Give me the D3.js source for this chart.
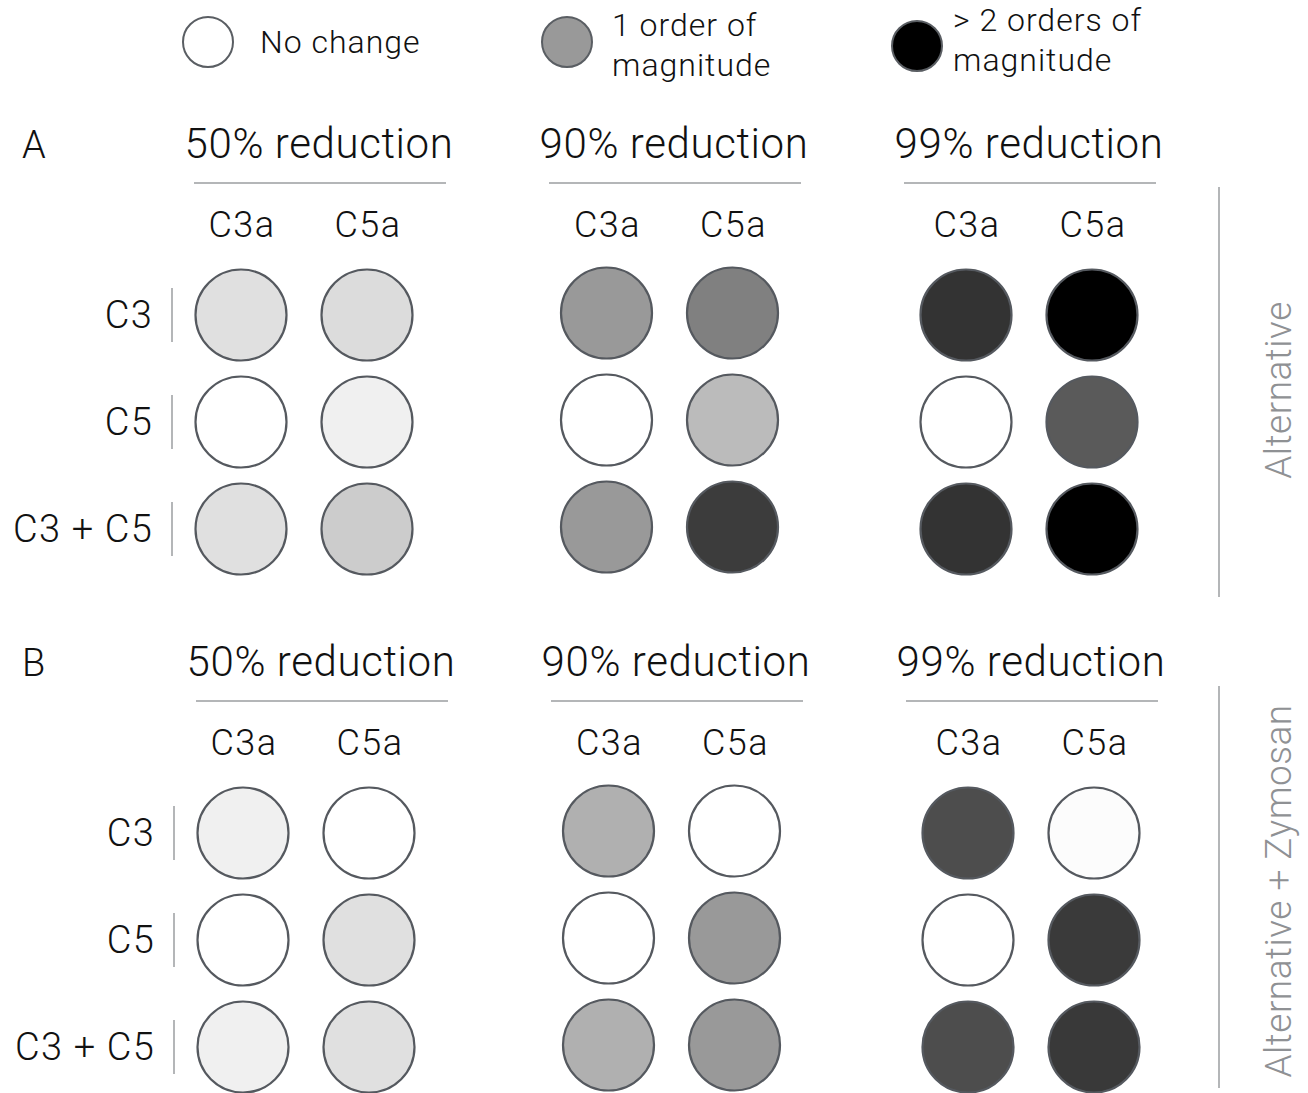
<!DOCTYPE html>
<html>
<head>
<meta charset="utf-8">
<script src="https://cdn.jsdelivr.net/npm/d3@7"></script>
<style>
  html, body { margin: 0; padding: 0; background: #fff; }
  svg { display: block; }
  text { font-family: Roboto, "Helvetica Neue", "Liberation Sans", sans-serif; font-weight: 300; fill: #111; }
</style>
</head>
<body>
<svg id="chart" width="1308" height="1093"></svg>
<script>
// ---------------- data ----------------
const panels = ["A", "B"];
const pathways = ["Alternative", "Alternative + Zymosan"];
const reductions = ["50% reduction", "90% reduction", "99% reduction"];
const mediators = ["C3a", "C5a"];
const targets = ["C3", "C5", "C3 + C5"];

// grey level of each dot (255 = no change / white, 0 = > 2 orders of magnitude / black)
// indexed [reduction][target][mediator]
const greyA = [
  [[224, 220], [255, 240], [224, 204]],
  [[153, 128], [255, 187], [153, 60]],
  [[51, 0], [255, 90], [51, 0]]
];
const greyB = [
  [[240, 255], [255, 224], [240, 224]],
  [[176, 255], [255, 153], [176, 153]],
  [[77, 252], [255, 58], [77, 57]]
];
const panelGrey = [greyA, greyB];

const legendLabels = [["No change"], ["1 order of", "magnitude"], ["> 2 orders of", "magnitude"]];
const legendGrey = [255, 153, 0];

// ---------------- scales ----------------
const svg = d3.select("#chart");
const colour = d3.scaleLinear().domain([0, 255]).range(["#000000", "#ffffff"]);
const panelY = d3.scalePoint().domain(panels).range([0, 518]);
const rowY = d3.scalePoint().domain(targets).range([315, 529]);
const groupX = d3.scalePoint().domain(reductions).range([241, 966]);
const subX = d3.scalePoint().domain(mediators).range([0, 126]);
const titleX = d3.scalePoint().domain(reductions).range([319, 1029]);
const legendX = d3.scalePoint().domain(d3.range(legendGrey.length)).range([208, 917]);
const R = 45.5;

// ---------------- legend ----------------
const leg = svg.append("g");
legendGrey.forEach((g, i) => {
  const cx = i === 1 ? 567 : legendX(i);
  const cy = i === 2 ? 46 : 42;
  leg.append("circle").attr("cx", cx).attr("cy", cy).attr("r", 25)
    .attr("fill", colour(g)).attr("stroke", "#5a5e63").attr("stroke-width", 2);
  const lines = legendLabels[i];
  const tx = cx + (i === 0 ? 52 : (i === 1 ? 45 : 36));
  const baseY = lines.length === 1 ? 53 : (i === 1 ? 36 : 31);
  lines.forEach((t, j) => {
    leg.append("text").attr("x", tx).attr("y", baseY + j * 40)
      .attr("font-size", 32).attr("letter-spacing", 1).text(t);
  });
});

// ---------------- panels ----------------
panels.forEach((p, pi) => {
  const oy = panelY(p);
  const dx = pi * 2;
  const g = svg.append("g");

  g.append("text").attr("x", 22).attr("y", 158 + oy).attr("font-size", 38).text(p);

  reductions.forEach((red, ri) => {
    const tcx = titleX(red) + dx;
    g.append("text").attr("x", tcx).attr("y", 158 + oy)
      .attr("text-anchor", "middle").attr("font-size", 42)
      .attr("letter-spacing", 0.6).text(red);
    g.append("line").attr("x1", tcx - 125).attr("x2", tcx + 127)
      .attr("y1", 183 + oy).attr("y2", 183 + oy)
      .attr("stroke", "#b4b6b8").attr("stroke-width", 2);

    const gx = groupX(red) + dx + (ri === 1 ? 3 : 0);
    mediators.forEach((m, mi) => {
      g.append("text").attr("x", gx + subX(m) + 1).attr("y", 237 + oy)
        .attr("text-anchor", "middle").attr("font-size", 36)
        .attr("letter-spacing", 1.5).text(m);
    });

    const cells = [];
    targets.forEach((t, ti) => mediators.forEach((m, mi) => {
      cells.push({ t, m, v: panelGrey[pi][ri][ti][mi] });
    }));
    g.selectAll(null).data(cells).enter().append("circle")
      .attr("cx", d => gx + subX(d.m))
      .attr("cy", d => rowY(d.t) + oy + (ri === 1 ? -2 : 0))
      .attr("r", R)
      .attr("fill", d => colour(d.v))
      .attr("stroke", "#55595f")
      .attr("stroke-width", 2.2);
  });

  targets.forEach(t => {
    const cy = rowY(t) + oy;
    g.append("text").attr("x", 153 + dx).attr("y", cy + 13)
      .attr("text-anchor", "end").attr("font-size", 38)
      .attr("letter-spacing", 1.2).text(t);
    g.append("line").attr("x1", 172 + dx).attr("x2", 172 + dx)
      .attr("y1", cy - 27).attr("y2", cy + 27)
      .attr("stroke", "#b4b6b8").attr("stroke-width", 2);
  });

  // side bracket + pathway label
  const top = pi === 0 ? 187 : 686;
  const bot = pi === 0 ? 597 : 1088;
  g.append("line").attr("x1", 1219).attr("x2", 1219).attr("y1", top).attr("y2", bot)
    .attr("stroke", "#b4b6b8").attr("stroke-width", 2);
  const midY = pi === 0 ? 390 : 891;
  g.append("text")
    .attr("transform", `translate(1291,${midY}) rotate(-90)`)
    .attr("text-anchor", "middle").attr("font-size", 37)
    .attr("letter-spacing", 0.5)
    .style("fill", "#8f9194").text(pathways[pi]);
});
</script>
</body>
</html>
